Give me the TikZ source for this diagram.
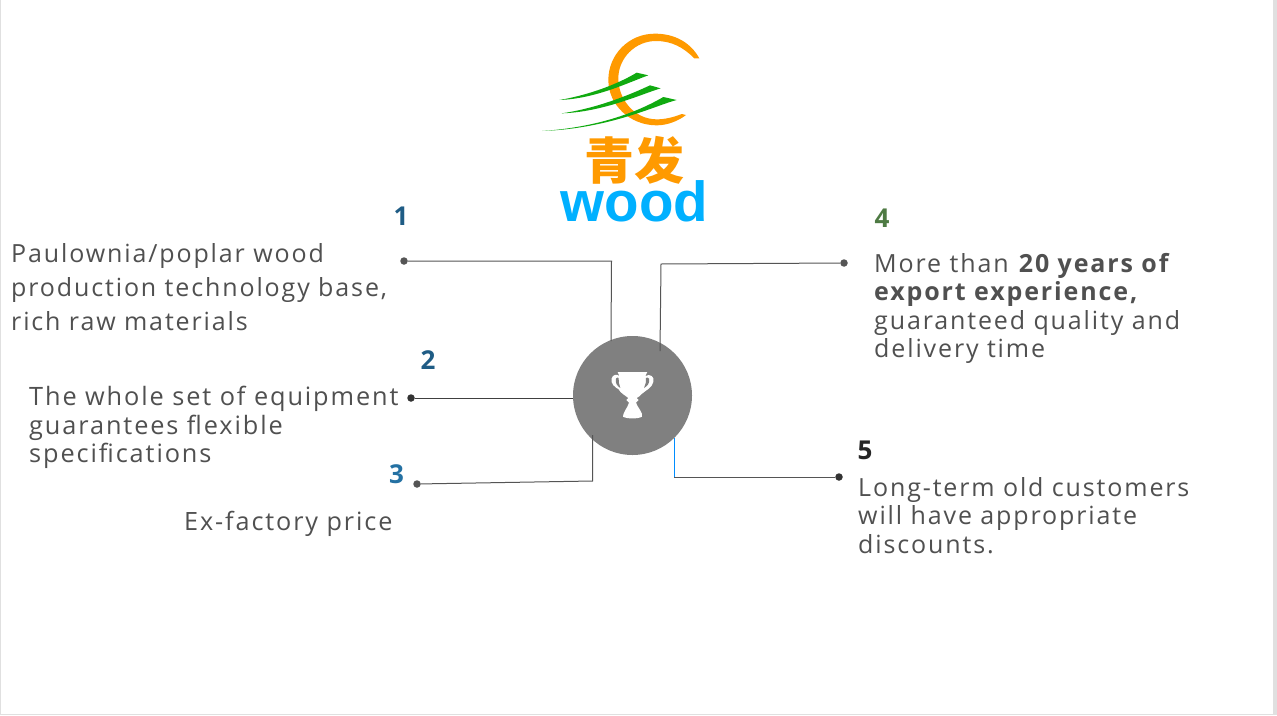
\documentclass[tikz,border=0pt]{standalone}
\usepackage{fontspec}
\setmainfont{Open Sans}
\newfontfamily\cjkfont{Noto Sans CJK SC}[BoldFont=* Black]
\newfontfamily\woodfont{Liberation Sans}
\newfontfamily\bodyfont{Open Sans}[LetterSpace=7.5]
\definecolor{txt}{HTML}{505050}
\definecolor{lin}{HTML}{555555}
\definecolor{hub}{HTML}{808080}
\definecolor{orng}{HTML}{FF9A00}
\definecolor{grn}{HTML}{10AA10}
\definecolor{sky}{HTML}{00B0FF}
\definecolor{numa}{HTML}{1F5C85}
\definecolor{numb}{HTML}{2471A3}
\definecolor{numc}{HTML}{4E7A43}
\tikzset{
  x=1pt,y=-1pt,
  body/.style={anchor=north west,align=left,inner sep=0pt,text=txt,font=\fontsize{25}{28.5}\selectfont\bodyfont},
  num/.style={inner sep=0pt,font=\fontsize{26}{30}\selectfont\bfseries},
  dotn/.style={circle,fill=#1,inner sep=0pt,minimum size=7.5pt},
  wire/.style={draw=lin,line width=1pt},
  logo/.style={shift={(530pt,-20pt)},x=1pt/3,y=-1pt/3},
  cup/.style={shift={(540pt,-320pt)},x=1pt/3,y=-1pt/3},
}
\begin{document}
\begin{tikzpicture}
\useasboundingbox (0,0) rectangle (1277,715);
\fill[white] (0,0) rectangle (1277,715);
\fill[black!12] (0,0) rectangle (1,715);
\fill[black!12] (1273,0) rectangle (1277,715);
\fill[black!12] (0,714) rectangle (1277,715);
% logo
\begin{scope}[logo]
\fill[orng] (508,115) .. controls (482,68) and (435,41) .. (375,41) .. controls (295,41) and (235,105) .. (235,180) .. controls (235,255) and (300,316) .. (380,316) .. controls (412,316) and (445,303) .. (468,285) -- (455,282) .. controls (430,292) and (405,298) .. (380,298) .. controls (315,298) and (265,240) .. (265,175) .. controls (265,115) and (315,63) .. (378,63) .. controls (425,63) and (460,82) .. (493,115) -- cycle;
\fill[grn] (88,240) .. controls (160,228) and (250,200) .. (320,158) -- (355,166) .. controls (300,185) and (200,236) .. (88,240) -- cycle;
\fill[grn] (95,280) .. controls (180,268) and (270,238) .. (360,196) -- (392,205) .. controls (335,222) and (220,276) .. (95,280) -- cycle;
\fill[grn] (36,333) .. controls (160,325) and (290,295) .. (400,231) -- (440,240) .. controls (380,255) and (240,326) .. (36,333) -- cycle;
\end{scope}
\node[inner sep=0pt,text=orng,font=\fontsize{50}{50}\selectfont\cjkfont\bfseries] (qf) at (634,160.5) {青发};
\node[inner sep=0pt,text=sky,font=\fontsize{56.5}{56}\selectfont\woodfont\bfseries,anchor=base] (wd) at (634.5,221) {wood};
% hub
\node[circle,fill=hub,inner sep=0pt,minimum size=119pt] (hb) at (632.5,395.5) {};
\begin{scope}[cup]
\fill[white] (233,156) -- (322,156) -- (316,168) .. controls (330,160) and (345,170) .. (340,186) .. controls (335,205) and (318,210) .. (305,222) .. controls (300,228) and (294,232) .. (290,234) -- (296,240) -- (288,248) .. controls (292,262) and (310,278) .. (306,290) .. controls (295,297) and (260,297) .. (249,290) .. controls (248,278) and (264,262) .. (267,248) -- (259,240) -- (265,234) .. controls (258,228) and (240,218) .. (236,208) .. controls (225,202) and (210,190) .. (215,175) .. controls (218,163) and (232,162) .. (238,168) -- cycle;
\fill[hub] (228,176) .. controls (225,190) and (232,198) .. (241,204) .. controls (238,192) and (234,184) .. (236,174) .. controls (233,172) and (230,172) .. (228,176) -- cycle;
\fill[hub] (327,176) .. controls (330,190) and (322,198) .. (312,204) .. controls (316,192) and (320,184) .. (318,174) .. controls (321,172) and (325,172) .. (327,176) -- cycle;
\end{scope}
% dots
\node[dotn=lin] (d1) at (404,261) {};
\node[dotn=black!80] (d2) at (411,398) {};
\node[dotn=lin] (d3) at (417,484) {};
\node[dotn=lin] (d4) at (844,263) {};
\node[dotn=black!80] (d5) at (839,477) {};
\coordinate (e1) at (611.5,261);
\coordinate (h1) at (611,341);
\coordinate (h2) at (573,398);
\coordinate (e3) at (592.5,481);
\coordinate (h3) at (592.5,435);
\coordinate (e4) at (661,264);
\coordinate (h4) at (660,351);
\coordinate (e5) at (674,477);
\coordinate (h5) at (674,438);
\draw[wire] (d1) -- (e1) -- (h1);
\draw[wire,draw=black!75] (d2) -- (h2);
\draw[wire] (d3) -- (e3) -- (h3);
\draw[wire] (d4) -- (e4) -- (h4);
\draw[wire] (d5) -- (e5);
\draw[line width=1pt,draw=sky!80!blue] (e5) -- (h5);
% numbers
\node[num,text=numa] (n1) at (401,216) {1};
\node[num,text=numa] (n2) at (428,360) {2};
\node[num,text=numb] (n3) at (396.5,474) {3};
\node[num,text=numc] (n4) at (882,218) {4};
\node[num,text=black!85] (n5) at (865,450) {5};
% texts
\node[body,font=\fontsize{25}{34}\selectfont\bodyfont] (t1) at (11,243) {Paulownia/poplar wood\\production technology base,\\rich raw materials};
\node[body,font=\fontsize{25.3}{28.5}\selectfont\bodyfont] (t2) at (29,386) {The whole set of equipment\\guarantees flexible\\specifications};
\node[body,font=\fontsize{25.2}{28.5}\selectfont\bodyfont] (t3) at (184,511.5) {Ex-factory price};
\node[body] (t4) at (874,253) {More than \textbf{20 years of}\\\textbf{export experience,}\\guaranteed quality and\\delivery time};
\node[body] (t5) at (858,477) {Long-term old customers\\will have appropriate\\discounts.};
\end{tikzpicture}
\end{document}
